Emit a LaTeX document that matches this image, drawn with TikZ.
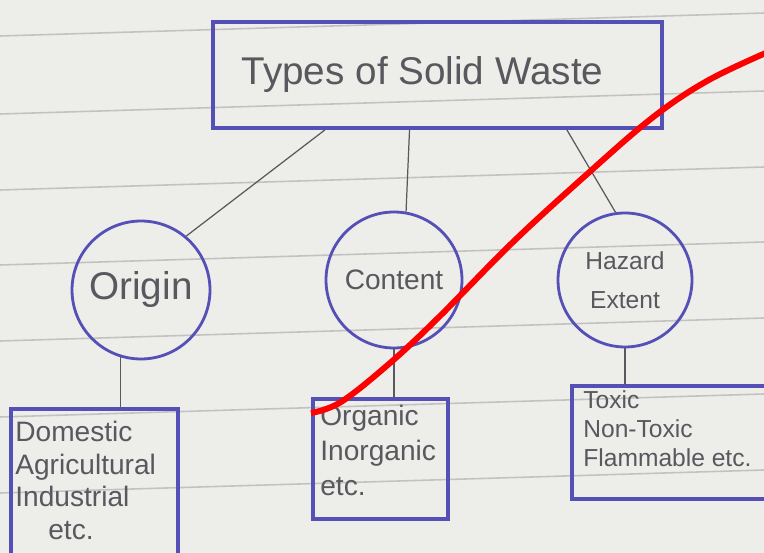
\documentclass[tikz,border=0pt]{standalone}
\usepackage{fontspec}
\setmainfont{Liberation Sans}
\definecolor{ink}{RGB}{84,80,182}
\definecolor{pencil}{RGB}{88,88,94}
\definecolor{paper}{RGB}{237,237,234}
\definecolor{ruling}{RGB}{194,194,192}
\begin{document}
\begin{tikzpicture}[x=0.02cm, y=-0.02cm,
	box/.style={draw=ink, line width=2.2pt, rectangle, inner sep=0pt},
	ring/.style={draw=ink, line width=1.6pt, circle, inner sep=0pt, text=pencil, align=center},
	words/.style={text=pencil, align=left, inner sep=0pt, anchor=north west},
	link/.style={draw=pencil, line width=0.7pt}]
	\clip (0,0) rectangle (764,553);
	\fill[paper] (0,0) rectangle (764,553);
	\foreach \y in {36,114,190,265,341,417,493}
		\draw[ruling, line width=0.9pt] (0,\y) -- (764,\y-23);

	\node[box, minimum width=8.98cm, minimum height=2.12cm, text=pencil, font=\fontsize{22}{26}\selectfont] (T) at (437.5,75) {Types of Solid Waste\kern0.6cm};
	\node[ring, minimum size=2.76cm, font=\fontsize{22}{26}\selectfont] (O) at (141,290) {Origin};
	\node[ring, minimum size=2.72cm, font=\fontsize{16}{20}\selectfont] (C) at (394,280) {Content};
	\node[ring, minimum size=2.68cm, font=\fontsize{14}{22}\selectfont] (H) at (625,280) {Hazard\\Extent};

	\node[box, minimum width=3.34cm, minimum height=3.02cm] (OB) at (94.5,484.5) {};
	\node[box, minimum width=2.7cm, minimum height=2.4cm] (CB) at (380.5,459) {};
	\node[box, minimum width=3.96cm, minimum height=2.26cm] (HB) at (671,442.5) {};

	\node[words, font=\fontsize{16}{18.5}\selectfont] at (15,421) {Domestic\\Agricultural\\Industrial\\\hspace{0.66cm}etc.};
	\node[words, font=\fontsize{16}{20}\selectfont] at (320,405) {Organic\\Inorganic\\etc.};
	\node[words, font=\fontsize{14}{16.5}\selectfont] at (583,390) {Toxic\\Non-Toxic\\Flammable etc.};

	\path[link] (T.206) edge (O.50);
	\path[link] (T.243) edge (C.80);
	\path[link] (T.337) edge (H.98);
	\path[link] (O.253) edge (O.253 |- OB.north);
	\path[link] (C.south) edge (C.south |- CB.north);
	\path[link] (H.south) edge (H.south |- HB.north);

	\draw[red, line width=3.4pt] plot[smooth, tension=0.6] coordinates {(311,413) (341,402) (390,363) (439,317) (512,243) (585,176) (652,118) (707,81) (768,52)};
\end{tikzpicture}
\end{document}
